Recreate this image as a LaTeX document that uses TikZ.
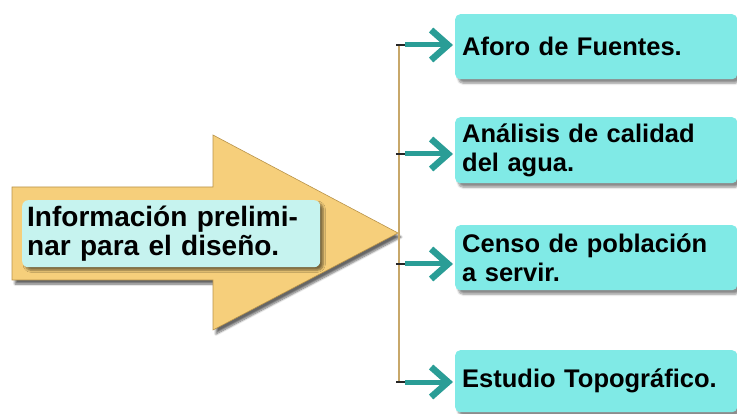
\documentclass[tikz,border=0pt]{standalone}
\usepackage{fontspec}
\setmainfont{Liberation Sans}
\usetikzlibrary{arrows.meta,shadows.blur}
\definecolor{gold}{HTML}{F6CF7B}
\definecolor{goldline}{HTML}{B8934A}
\definecolor{paleCyan}{HTML}{C6F3EF}
\definecolor{boxCyan}{HTML}{80EAE6}
\definecolor{teal}{HTML}{2A9D96}
\definecolor{trunk}{HTML}{C8A86A}
\tikzset{
  itembox/.style={draw=none, fill=boxCyan, rounded corners=5pt, anchor=north west,
    minimum width=280pt, text width=268pt, align=left, inner xsep=7pt,
    font=\bfseries\fontsize{25.5}{28.5}\selectfont,
    blur shadow={shadow xshift=3pt, shadow yshift=-4pt, shadow blur steps=8, shadow opacity=45}},
  linkarrow/.style={draw=teal, line width=5pt, -{Straight Barb[length=17pt, width=30pt, line width=6.5pt]}},
  stub/.style={draw=black!85, line width=2.5pt},
}
\begin{document}
\begin{tikzpicture}[x=1pt,y=-1pt]
\useasboundingbox (0,0) rectangle (737,414);
% big arrow
\path[fill=gold, draw=goldline, line width=0.6pt,
  blur shadow={shadow xshift=3pt, shadow yshift=-4pt, shadow blur steps=8, shadow opacity=60}]
  (12,187) -- (213,187) -- (213,135) -- (398,233) -- (213,330) -- (213,280) -- (12,280) -- cycle;
\node[fill=paleCyan, rounded corners=6pt, anchor=north west, minimum width=296pt, minimum height=67pt,
  text width=288pt, align=left, inner xsep=5pt, font=\bfseries\fontsize{28}{29.5}\selectfont,
  blur shadow={shadow xshift=3pt, shadow yshift=-3pt, shadow blur steps=6, shadow opacity=50}]
  (main) at (22,200) {Información prelimi-\\nar para el diseño.};
% boxes
\node[itembox, minimum height=65pt] (b1) at (455,14) {Aforo de Fuentes.};
\node[itembox, minimum height=66pt] (b2) at (455,117) {Análisis de calidad\\del agua.};
\node[itembox, minimum height=65pt] (b3) at (455,225) {Censo de población\\a servir.};
\node[itembox, minimum height=62pt] (b4) at (455,350) {Estudio Topográfico.};
% trunk
\coordinate (j1) at (399,45);
\coordinate (j2) at (399,154);
\coordinate (j3) at (399,264);
\coordinate (j4) at (399,382);
\draw[trunk, line width=1.2pt] (j1) -- (j4);
\foreach \j/\b in {j1/b1, j2/b2, j3/b3, j4/b4}{
  \draw[stub] ([xshift=-3pt]\j) -- ([xshift=8pt]\j);
  \draw[linkarrow] ([xshift=6pt]\j) -- ([xshift=-2pt]\j -| \b.west);
}
\end{tikzpicture}
\end{document}
